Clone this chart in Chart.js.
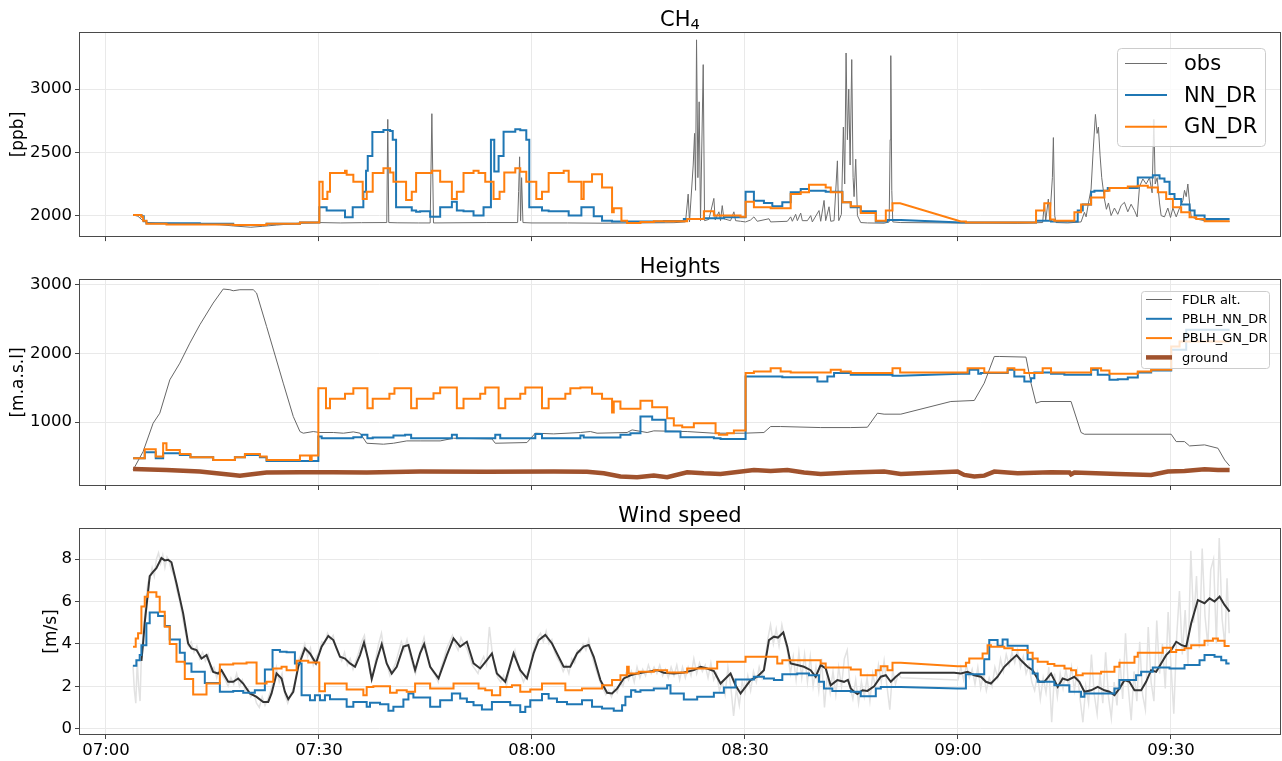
<!DOCTYPE html>
<html><head><meta charset="utf-8">
<script src="https://cdn.jsdelivr.net/npm/chart.js@4.4.1/dist/chart.umd.min.js"></script>
<style>
html,body{margin:0;padding:0;background:#fff;}
body{width:1282px;height:761px;position:relative;overflow:hidden;}
.box{position:absolute;left:0;width:1282px;}
canvas{display:block;}
</style></head><body>
<div class="box" style="top:0;height:250px"><canvas id="c1" width="1282" height="250"></canvas></div>
<div class="box" style="top:247px;height:252px"><canvas id="c2" width="1282" height="252"></canvas></div>
<div class="box" style="top:496px;height:265px"><canvas id="c3" width="1282" height="265"></canvas></div>
<script>
// ---------- shared axis data (minutes after 07:00) ----------
const xTickMinutes = [0, 30, 60, 90, 120, 150];
const xTickLabels = ['07:00', '07:30', '08:00', '08:30', '09:00', '09:30'];
const panelTitles = ['CH\u2084', 'Heights', 'Wind speed'];
const yTitles = ['[ppb]', '[m.a.s.l]', '[m/s]'];
const ch4Ticks = [2000, 2500, 3000];
const heightTicks = [1000, 2000, 3000];
const windTicks = [0, 2, 4, 6, 8];

// ---------- CH4 ----------
const ch4ObsT = [3.82,4.5,5.2,5.8,7,10,13.2,16,18,20.4,22,24,27.3,30,33,36,39.55,39.69,39.83,41,44,45.66,45.9,46.13,53.65,57.98,58.12,58.26,58.4,58.54,58.73,60,65,70,75,80,81.63,82.0,82.19,82.71,82.9,83.04,83.18,83.37,83.55,83.74,84.12,84.31,84.92,85.62,85.81,86.33,86.56,86.8,87.03,87.97,88.44,88.68,89.38,90.09,90.79,91.26,91.73,93.38,93.62,95.97,96.44,96.67,97.14,97.38,97.85,98.08,98.79,99.26,99.49,100.43,100.67,101.14,101.37,101.84,102.08,102.55,103.02,103.21,103.58,103.86,104.05,104.24,104.43,104.62,104.81,105.04,105.23,105.37,105.6,105.84,106.31,107.25,109.6,110.31,110.45,110.54,110.68,110.82,111.95,119,123.7,128.4,131.93,132.17,132.36,132.73,132.92,133.3,133.44,133.63,133.81,135.46,137.34,137.81,138.05,138.38,138.75,139.03,139.36,139.6,139.78,140.02,140.25,140.63,140.91,141.2,141.57,142.04,142.51,142.98,143.45,143.92,144.39,144.86,145.24,145.57,146.04,146.51,146.98,147.35,147.59,147.78,148.06,148.39,148.62,149.09,149.56,149.94,150.27,150.74,151.21,151.68,151.91,152.15,152.38,152.62,152.86,153.8,154.74,156.62,158.26];
const ch4ObsV = [2005,1995,1960,1945,1940,1938,1935,1928,1918,1908,1915,1925,1940,1945,1942,1944,1945,2761,1945,1943,1942,1942,2806,1942,1945,1945,2190,2465,1960,2300,1945,1942,1942,1940,1942,1944,1950,2170,1950,2400,2650,2200,3390,2300,2900,1960,3194,1960,1970,2136,1965,2030,1960,2079,1975,1960,2030,1960,1955,1950,1965,1990,1955,1975,1950,1955,1990,1955,2010,1960,2020,1960,1960,2000,1950,2040,1955,2120,1960,2070,1955,1960,2433,1960,2010,2700,2250,3286,2600,3000,2400,3234,2300,2150,2446,2000,1945,1942,1940,1950,2600,3265,2200,1950,1945,1942,1942,1940,1945,2100,1960,2131,1960,2300,2617,2000,1945,1942,1950,2026,1990,2100,2210,2500,2800,2650,2700,2472,2300,2131,2050,2100,2000,2060,2010,2080,2105,2030,2090,2040,1990,2230,2290,2250,2300,2180,2761,2250,2300,2100,2000,1990,2060,1985,2060,1990,2060,2120,2200,2150,2250,2100,1990,1970,1960,1958,1955];

const ch4NnT = [3.82,4.99,5.32,5.70,13.22,17.92,22.62,27.32,30.05,31.08,33.67,34.75,36.25,36.63,36.87,37.52,39.08,40.02,40.39,40.86,43.07,43.68,44.25,45.66,47.07,48.72,49.42,50.36,51.77,53.18,54.22,54.69,55.30,56.00,57.65,58.35,59.20,59.62,61.41,62.35,65.17,66.96,68.70,69.87,71.28,78.57,81.39,84.21,87.03,90.09,91.26,92.67,93.85,95.26,96.44,97.85,99.02,101.37,103.72,104.9,106.31,108.43,110.07,111.95,120.41,131.00,133.11,136.87,137.58,138.75,139.22,141.10,145.33,147.45,148.39,149.09,149.80,150.50,151.44,152.62,153.33,154.74,158.26];
const ch4NnV = [2005,1995,1955,1940,1935,1925,1935,1945,2066,2040,1987,2066,2189,2354,2472,2661,2677,2669,2599,2066,2040,2031,2034,1990,2066,2110,2040,2034,2000,2066,2599,2349,2472,2664,2683,2675,2599,2066,2040,2034,2000,2066,1995,1960,1953,1958,1974,1979,1987,2189,2118,2100,2074,2105,2184,2210,2197,2189,2105,2066,2034,1953,1966,1966,1945,1960,1953,2040,2087,2189,2197,2218,2302,2320,2294,2268,2171,2131,2087,2040,2000,1974,1974];
const ch4NnLinearAt = [120.41];

const ch4GnT = [3.82,4.99,5.23,5.70,8.52,17.92,22.62,27.32,30.05,30.52,31.18,31.55,33.67,33.90,34.84,36.16,36.73,37.57,39.08,40.02,40.49,42.27,43.07,43.68,45.90,47.07,48.72,49.42,50.36,51.77,52.48,53.42,54.59,55.44,56.10,57.65,58.35,59.20,60.61,61.41,62.35,64.47,65.17,66.96,67.29,68.46,69.87,71.28,71.52,72.60,73.40,75.28,77.16,81.86,84.21,85.62,89.38,90.09,91.26,93.62,96.44,97.85,99.02,101.37,102.08,103.72,104.9,106.31,108.43,109.84,110.78,111.86,120.41,121.12,131.00,132.17,133.01,133.58,136.40,137.34,138.75,140.63,141.34,143.92,145.33,146.74,148.15,149.33,150.27,151.44,152.62,153.56,154.74,158.26];
const ch4GnV = [2005,1990,1960,1935,1930,1925,1935,1945,2268,2131,2189,2336,2354,2323,2268,2131,2189,2336,2375,2341,2268,2123,2189,2336,2354,2268,2131,2189,2336,2354,2336,2268,2131,2189,2341,2375,2346,2268,2131,2189,2336,2354,2268,2131,2268,2328,2223,2026,2058,1960,1942,1950,1955,1974,2034,2000,1990,2110,2066,2058,2171,2184,2244,2223,2184,2105,2074,2021,1960,2040,2097,2097,1953,1945,2040,2097,1970,1960,2026,2087,2144,2197,2218,2231,2236,2223,2184,2131,2066,2026,1987,1974,1955,1955];
const ch4GnLinearAt = [120.41];

// ---------- Heights ----------
const altT = [3.82,5.23,6.64,7.58,8.99,10.40,11.81,13.22,15.10,16.51,17.45,17.92,18.86,20.74,21.21,22.62,24.97,26.38,27.32,27.79,29.20,30.14,32.02,33.44,34.84,35.79,36.73,39.08,40.49,42.37,44.25,47.07,48.95,54.36,54.83,59.29,60.47,63.06,66.82,68.23,69.17,73.40,74.10,76.22,77.16,81.86,85.62,89.85,92.67,93.62,95.03,100.67,104.9,107.25,108.66,109.6,111.95,119.0,122.3,123.7,125.12,125.82,129.58,130.29,130.99,131.70,135.93,137.34,137.81,150.03,150.74,151.91,152.62,154.74,156.62,157.56,158.26];
const altV = [306,573,985,1131,1616,1859,2150,2417,2733,2937,2927,2912,2927,2927,2879,2393,1568,1083,864,840,864,850,850,840,859,840,694,680,694,728,728,728,767,757,694,704,840,830,850,864,840,850,888,850,874,864,840,840,850,937,937,922,922,927,1131,1117,1117,1301,1316,1568,1956,1956,1947,1568,1277,1301,1301,850,825,825,718,718,655,670,621,451,364];

const pblhNnT = [3.82,5.46,7.01,8.05,10.40,11.90,15.10,18.16,19.57,21.68,22.62,29.91,30.38,34.84,36.02,36.82,37.57,40.49,42.13,42.98,48.72,49.42,54.83,55.53,60.47,61.41,66.82,67.29,72.46,73.87,75.28,76.93,78.81,80.92,85.62,86.56,90.09,95.26,100.2,101.61,102.55,104.9,110.78,111.86,120.41,121.59,122.86,123.24,127.0,127.94,129.35,130.29,130.76,133.11,134.99,138.75,139.69,141.34,142.51,143.92,145.33,147.21,150.03,152.15,158.26];
const pblhNnV = [476,563,476,549,524,490,451,490,524,490,437,791,767,782,816,767,777,806,816,767,816,767,816,767,830,767,806,777,816,840,1083,1034,864,782,767,757,1665,1655,1592,1665,1714,1689,1675,1675,1704,1762,1704,1714,1762,1665,1592,1640,1723,1704,1689,1762,1689,1617,1626,1650,1723,1752,2053,2345,2345];
const pblhNnLinearAt = [120.41];

const pblhGnT = [3.82,5.46,7.01,8.05,8.52,10.40,11.90,15.10,18.16,19.57,21.68,22.62,27.32,28.73,28.97,29.91,30.99,31.55,33.67,34.84,36.82,37.57,39.92,40.63,42.98,43.78,46.13,47.07,49.42,50.36,52.71,53.42,55.30,56.24,58.35,59.06,61.41,62.35,64.70,65.41,66.82,68.46,69.87,71.28,71.52,72.46,75.28,76.93,79.04,79.98,81.16,82.80,85.86,86.33,87.50,88.44,90.09,91.26,93.62,95.03,96.44,102.08,103.49,104.9,110.78,111.86,120.41,121.36,123.71,127.0,127.94,129.35,131.93,133.11,138.75,140.16,141.34,145.33,147.21,150.03,151.21,158.26];
const pblhGnV = [476,607,500,694,597,539,490,451,490,539,500,451,515,451,515,1495,1204,1340,1413,1495,1204,1340,1413,1495,1204,1340,1422,1505,1204,1340,1413,1505,1204,1340,1413,1505,1204,1340,1413,1495,1505,1413,1340,1141,1301,1194,1311,1218,1058,951,927,985,840,816,840,879,1714,1738,1786,1738,1723,1762,1738,1714,1786,1723,1723,1786,1723,1786,1762,1714,1786,1723,1786,1752,1704,1738,1762,2102,2175,2175];
const pblhGnLinearAt = [120.41];

const groundT = [3.82,8.52,13.22,15.57,17.92,18.86,20.27,22.62,27.32,32.02,36.73,44.25,53.65,63.06,67.76,70.11,72.46,74.81,77.16,79.04,81.86,84.21,86.56,90.09,91.26,93.62,95.97,98.32,100.67,104.9,109.6,111.95,119.94,120.88,122.3,123.71,125.12,128.41,133.11,135.7,135.93,136.4,142.51,147.21,149.56,151.91,154.74,156.62,158.26];
const groundV = [320,306,282,257,233,223,238,267,272,272,270,282,280,282,280,257,209,199,223,199,272,257,248,291,306,291,306,267,248,267,282,248,282,233,209,223,282,257,272,270,240,268,248,233,282,291,316,306,306];

// ---------- Wind speed ----------
const windRawT = [3.8,4.0,4.2,4.4,4.6,4.8,5.0,5.3,5.6,5.9,
 6.2,6.5,6.8,7.1,7.4,7.7,8.0,8.3,8.6,8.9,
 9.2,9.6,10.0,10.4,10.8,11.2,11.6,12.0,12.4,12.8,
 13.2,13.6,14.0,14.4,14.8,15.2,15.6,16.0,16.4,16.8,
 17.2,17.6,18.0,18.4,18.8,19.2,19.6,20.0,20.4,20.8,
 21.2,21.6,22.0,22.4,22.8,23.2,23.6,24.0,24.4,24.8,
 25.2,25.6,26.0,26.4,26.8,27.2,27.6,28.0,28.4,28.8,
 29.2,29.6,30.0,30.4,30.8,31.2,31.6,32.0,32.4,32.8,
 33.2,33.6,34.0,34.4,34.8,35.2,35.6,36.0,36.4,36.8,
 37.2,37.6,38.0,38.4,38.8,39.2,39.6,40.0,40.4,40.8,
 41.2,41.6,42.0,42.4,42.8,43.2,43.6,44.0,44.4,44.8,
 45.2,45.6,46.0,46.4,46.8,47.2,47.6,48.0,48.4,48.8,
 49.2,49.6,50.0,50.4,50.8,51.2,51.6,52.0,52.4,52.8,
 53.2,53.6,54.0,54.4,54.8,55.2,55.6,56.0,56.4,56.8,
 57.2,57.6,58.0,58.4,58.8,59.2,59.6,60.0,60.4,60.8,
 61.2,61.6,62.0,62.4,62.8,63.2,63.6,64.0,64.4,64.8,
 65.2,65.6,66.0,66.4,66.8,67.2,67.6,68.0,68.4,68.8,
 69.2,69.6,70.0,70.4,70.8,71.2,71.6,72.0,72.4,72.8,
 73.2,73.6,74.0,74.4,74.8,75.2,75.6,76.0,76.4,76.8,
 77.2,77.6,78.0,78.4,78.8,79.2,79.6,80.0,80.4,80.8,
 81.2,81.6,82.0,82.4,82.8,83.2,83.6,84.0,84.4,84.8,
 85.2,85.6,86.0,86.4,86.8,87.2,87.6,88.0,88.4,88.8,
 89.2,89.6,90.0,90.4,90.8,91.2,91.6,92.0,92.4,92.8,
 93.2,93.6,94.0,94.4,94.8,95.2,95.6,96.0,96.4,96.8,
 97.2,97.6,98.0,98.4,98.8,99.2,99.6,100.0,100.4,100.8,
 101.2,101.6,102.0,102.4,102.8,103.2,103.6,104.0,104.4,104.8,
 105.2,105.6,106.0,106.4,106.8,107.2,107.6,108.0,108.4,108.8,
 109.2,109.6,110.0,110.4,110.8,111.2,111.6,112.0,120.0,120.4,
 120.8,121.2,121.6,122.0,122.4,122.8,123.2,123.6,124.0,124.4,
 124.8,125.2,125.6,126.0,126.4,126.8,127.2,127.6,128.0,128.4,
 128.8,129.2,129.6,130.0,130.4,130.8,131.2,131.6,132.0,132.4,
 132.8,133.2,133.6,134.0,134.4,134.8,135.2,135.6,136.0,136.4,
 136.8,137.2,137.6,138.0,138.4,138.8,139.2,139.6,140.0,140.4,
 140.8,141.2,141.6,142.0,142.4,142.8,143.2,143.6,144.0,144.4,
 144.8,145.2,145.6,146.0,146.4,146.8,147.2,147.6,148.0,148.4,
 148.8,149.2,149.6,150.0,150.4,150.8,151.2,151.6,152.0,152.4,
 152.8,153.2,153.6,154.0,154.4,154.8,155.2,155.6,156.0,156.4,
 156.8,157.2,157.6,157.9,158.2];
const windRawV = [3.0,1.8,1.2,3.2,2.0,1.3,3.6,4.6,6.0,6.9,
 7.1,7.6,7.2,8.0,8.3,7.8,8.2,7.6,8.1,7.9,
 7.5,7.2,6.5,6.0,5.2,4.5,3.9,4.1,3.6,3.9,
 3.3,3.6,3.2,3.5,2.7,2.9,2.4,2.9,2.5,2.3,
 2.0,2.4,2.1,2.6,2.0,2.3,1.8,1.9,1.5,1.7,
 1.2,1.0,1.5,1.1,1.4,1.8,2.3,2.9,2.2,2.6,
 1.6,1.2,1.6,1.9,2.5,3.3,3.6,4.0,3.4,3.8,
 3.0,3.4,3.6,4.1,4.0,4.5,4.2,4.4,3.8,3.5,
 3.2,3.6,3.0,3.3,2.8,3.2,3.6,4.1,4.4,3.4,
 2.6,2.5,3.3,4.0,4.5,3.6,3.0,2.5,2.8,3.1,
 3.6,4.1,3.7,4.2,3.5,3.0,2.6,3.3,3.8,4.3,
 3.6,3.0,2.7,2.5,2.2,2.9,3.3,3.8,4.1,4.4,
 4.0,3.7,4.3,4.0,3.8,3.4,3.0,2.8,2.6,3.1,
 3.4,3.0,4.8,3.6,2.8,2.4,2.2,2.5,2.0,2.8,
 3.3,3.7,3.0,2.6,2.2,2.5,2.8,3.4,3.9,4.3,
 4.5,4.1,4.6,4.0,4.2,3.6,3.3,3.1,2.7,3.0,
 2.6,3.3,3.1,3.7,3.6,4.0,3.7,4.2,3.5,3.0,
 2.6,2.2,1.9,1.6,1.8,1.5,1.9,1.7,2.2,2.0,
 2.6,2.3,2.7,2.2,2.9,2.4,2.8,2.5,3.0,2.6,
 2.9,2.6,3.0,2.5,2.8,2.4,2.9,2.5,3.0,2.3,
 2.9,2.4,2.9,2.5,3.3,2.6,3.1,2.7,3.0,2.4,
 3.1,2.3,2.6,1.8,2.2,1.6,2.9,2.0,0.6,1.9,
 1.1,2.2,1.7,2.5,1.8,2.7,2.2,2.9,2.4,3.2,
 4.2,4.9,4.0,4.7,3.9,4.9,4.2,3.6,2.6,3.4,
 2.3,3.6,2.4,3.5,2.2,3.4,2.0,2.9,1.8,3.3,
 1.0,2.6,1.7,2.7,1.6,2.9,2.0,3.3,3.7,2.0,
 1.4,2.3,1.2,2.2,1.5,2.4,1.3,2.6,1.9,3.0,
 2.2,3.2,2.0,0.9,2.8,2.1,2.6,2.4,2.3,2.9,
 2.3,3.0,2.4,2.8,2.1,2.9,1.9,2.6,1.8,2.4,
 2.0,2.9,2.4,3.3,2.7,3.5,3.0,3.6,3.1,3.7,
 2.9,3.4,2.6,3.0,2.2,1.8,2.6,1.4,2.4,1.7,
 2.9,0.3,2.6,1.5,2.6,1.9,2.8,2.0,2.9,1.8,
 2.7,1.4,0.3,2.0,1.2,3.5,1.6,0.7,2.6,1.2,
 3.6,1.5,0.5,2.2,1.1,3.3,1.4,4.5,1.9,0.4,
 2.7,1.3,4.1,1.6,0.9,4.8,2.2,1.3,5.1,2.6,
 4.0,1.9,5.5,3.0,0.7,4.3,6.5,3.5,5.6,3.0,
 8.4,5.0,7.2,3.8,8.5,5.3,3.9,7.5,8.0,4.0,
 9.0,5.2,3.9,7.1,4.5];

const windSmoothT = [4.99,5.22,5.46,6.16,6.63,7.10,7.81,8.28,8.75,9.22,9.93,10.87,11.57,12.04,12.75,13.45,14.16,15.10,15.80,16.27,17.21,17.92,18.62,19.33,20.27,21.21,22.15,22.85,23.32,24.03,24.73,25.20,25.67,26.38,27.08,28.02,28.73,29.57,30.37,31.31,32.02,32.96,33.66,34.37,35.08,35.78,36.34,36.96,37.43,38.13,38.84,39.54,40.25,40.95,41.89,42.60,43.54,44.24,44.81,45.66,46.84,48.01,48.95,49.89,50.83,51.77,52.71,53.65,54.36,55.06,56.24,57.41,58.35,59.29,60.23,60.94,61.88,62.82,63.52,64.46,65.40,66.34,67.28,67.99,68.70,69.64,70.58,71.28,71.99,72.93,73.87,74.81,76.22,77.63,78.57,79.98,81.39,82.80,83.74,84.68,85.62,86.56,87.26,87.97,88.67,89.38,90.08,90.79,91.73,92.67,93.38,94.08,94.65,95.40,95.96,96.43,97.37,98.31,99.25,99.96,100.66,101.37,102.07,103.01,103.95,104.5,104.9,105.37,105.84,106.55,107.25,108.19,109.13,109.84,110.54,111.25,111.95,119.47,120.41,121.35,122.29,123.23,123.94,124.64,125.58,126.53,127.47,128.26,128.87,129.81,130.52,131.46,132.17,133.11,134.05,134.75,135.46,136.40,137.10,137.81,138.75,139.69,140.63,141.33,142.04,142.74,143.45,144.15,144.86,145.80,146.50,147.21,147.91,148.62,149.32,150.03,150.74,151.44,152.15,152.85,153.79,154.73,155.44,156.14,156.85,157.55,158.26];
const windSmoothV = [3.2,4.0,5.0,7.2,7.4,7.57,8.05,7.94,7.97,7.85,6.86,5.44,4.02,3.79,3.71,3.31,3.47,2.68,2.60,2.76,2.21,2.21,2.37,2.13,1.66,1.50,1.26,1.26,1.66,2.60,2.37,1.74,1.39,1.74,2.92,3.79,3.55,3.08,3.87,4.37,4.18,3.39,3.31,3.08,2.92,3.47,4.07,3.23,2.34,3.23,3.99,3.08,2.60,2.92,3.87,3.95,2.76,3.55,3.99,2.92,2.37,3.47,4.26,3.87,4.10,3.08,2.84,3.23,3.55,2.60,2.21,3.55,2.76,2.37,3.55,4.18,4.42,4.02,3.55,2.92,2.92,3.55,3.87,3.95,3.39,2.29,1.69,1.66,1.89,2.37,2.52,2.60,2.68,2.76,2.64,2.60,2.65,2.76,2.92,2.84,2.72,2.13,2.37,2.60,2.05,1.66,1.97,2.29,2.45,2.76,4.18,4.34,4.30,4.54,3.87,3.08,3.00,2.92,2.76,2.45,3.00,2.84,2.05,2.29,2.21,2.3,1.9,1.74,1.63,1.81,1.78,2.00,2.45,2.52,2.21,2.45,2.64,2.64,2.60,2.68,2.52,2.45,2.21,2.13,2.45,2.92,3.23,3.47,3.23,2.92,2.76,2.21,2.21,2.60,1.97,2.37,2.29,2.45,2.21,1.74,1.81,1.97,1.81,1.74,1.58,1.89,2.29,2.21,1.81,1.81,2.21,2.76,2.68,3.08,3.47,3.71,4.10,3.95,3.87,4.97,6.07,5.92,6.15,6.00,6.23,5.84,5.52];

const windNnT = [3.81,4.28,4.75,4.99,5.69,6.16,7.34,8.28,8.98,10.40,11.10,12.04,13.92,16.04,17.92,19.33,20.97,22.38,23.46,24.50,25.44,26.61,27.55,28.73,29.43,30.14,30.84,31.55,33.90,34.84,36.72,37.19,38.60,39.78,40.48,41.89,42.60,43.30,45.66,47.07,48.72,49.89,50.83,51.77,52.95,54.36,56.94,58.35,59.06,59.76,61.41,62.35,63.52,64.93,67.05,68.46,69.87,71.52,72.69,73.16,73.96,74.57,75.28,77.16,79.04,79.51,81.39,83.27,85.62,87.03,88.67,91.26,92.67,94.08,95.26,97.37,99.02,100.43,101.13,102.31,104.9,106.31,108.43,109.13,111.95,119.94,121.12,123.70,124.41,125.58,126.29,126.99,129.81,130.52,131.23,133.58,135.69,137.34,137.81,142.04,142.74,145.09,145.80,147.44,149.80,151.91,154.03,154.73,156.14,157.08,157.79,158.26];
const windNnV = [2.97,3.23,3.47,3.94,4.97,5.48,5.32,4.84,4.21,3.58,3.08,2.68,2.16,1.74,1.78,1.69,1.81,2.79,3.71,3.63,3.60,3.08,1.58,1.34,1.58,1.34,1.58,1.39,1.03,1.26,1.03,1.22,1.15,0.84,1.03,1.37,1.66,1.47,1.03,1.34,1.66,1.42,1.26,1.10,0.90,1.26,1.10,0.79,1.03,1.34,1.63,1.42,1.26,1.15,1.34,1.03,0.95,0.84,1.10,1.50,1.81,1.74,1.81,1.89,2.05,1.66,1.37,1.50,1.69,1.94,2.32,2.45,2.37,2.29,2.57,2.60,2.52,2.21,1.89,1.78,1.74,1.53,1.89,1.97,1.97,1.89,2.57,3.27,4.18,3.91,4.21,3.91,3.27,2.60,2.21,2.05,1.74,1.50,1.66,1.89,2.29,2.52,2.68,2.89,2.84,3.00,3.23,3.47,3.39,3.23,3.08,3.08];
const windNnLinearAt = [119.94];

const windGnT = [3.81,4.19,4.52,4.99,5.46,5.93,7.10,7.57,8.28,8.98,9.93,11.10,12.28,14.16,16.04,17.92,19.80,21.21,22.62,23.56,24.73,25.44,26.85,28.49,30.05,30.84,33.90,36.25,36.72,37.66,40.01,40.95,42.36,43.54,45.66,48.95,52.48,53.42,54.36,55.53,57.18,58.35,59.76,61.41,64.70,67.05,69.87,71.28,72.46,73.40,73.63,75.04,77.16,79.04,81.86,86.09,90.08,94.55,95.26,100.66,101.37,104.9,106.31,108.43,109.13,110.07,110.78,111.95,119.94,121.12,121.59,123.47,124.17,124.64,126.53,127.70,129.81,130.52,131.23,132.64,133.58,135.0,135.93,136.63,137.57,140.16,142.04,142.74,144.86,145.33,148.85,150.03,150.74,151.91,152.85,154.73,155.91,156.61,157.55,158.26];
const windGnV = [3.87,4.26,4.50,5.76,6.23,6.44,6.23,5.52,4.81,3.99,3.16,2.34,1.61,2.13,3.03,3.08,3.12,2.13,2.21,2.84,2.92,2.76,3.20,3.12,1.77,2.13,1.85,1.58,1.97,2.00,1.69,1.81,1.74,2.13,1.89,2.13,1.89,1.81,1.58,1.97,2.05,1.74,1.85,2.13,1.81,1.89,2.05,2.29,2.52,2.92,2.60,2.68,2.76,2.65,2.84,3.16,3.39,3.08,3.23,3.08,2.89,2.79,2.52,2.76,2.95,2.76,3.11,3.11,2.95,3.11,3.31,3.55,3.94,3.87,3.79,3.71,3.58,3.31,3.16,3.05,2.97,2.84,2.76,2.52,2.60,2.68,2.92,3.11,3.39,3.58,3.82,3.62,3.71,3.79,3.94,4.15,4.26,4.15,3.90,3.90];
const windGnLinearAt = [119.94];

// ---------- helpers ----------
const FONT = "'DejaVu Sans', 'Liberation Sans', sans-serif";
const BLUE = '#1f77b4', ORANGE = '#ff7f0e';
const SUBS = '\u2080\u2081\u2082\u2083\u2084\u2085\u2086\u2087\u2088\u2089';

function linePts(ts, vs) {
  const n = Math.min(ts.length, vs.length), p = [];
  for (let i = 0; i < n; i++) p.push({x: ts[i], y: vs[i]});
  return p;
}
function stepPts(ts, vs, linearAt) {
  const n = Math.min(ts.length, vs.length), p = [];
  for (let i = 0; i < n; i++) {
    if (i > 0 && !(linearAt || []).includes(ts[i])) p.push({x: ts[i], y: vs[i - 1]});
    p.push({x: ts[i], y: vs[i]});
  }
  return p;
}
function ds(label, data, color, width, order) {
  return {label, data, borderColor: color, backgroundColor: color, borderWidth: width,
          order, pointRadius: 0, fill: false, tension: 0, borderJoinStyle: 'miter', borderCapStyle: 'butt'};
}
// draw a title, rendering unicode subscript digits as lowered smaller digits (mathtext-like)
function drawTitle(ctx, text, cx, baseY, size) {
  const parts = [];
  for (const ch of text) {
    const k = SUBS.indexOf(ch);
    if (k >= 0) parts.push({t: String(k), sub: true}); else parts.push({t: ch, sub: false});
  }
  const subSize = size * 0.7;
  let w = 0;
  parts.forEach(p => { ctx.font = (p.sub ? subSize : size) + 'px ' + FONT; p.w = ctx.measureText(p.t).width; w += p.w; });
  let x = cx - w / 2;
  ctx.textAlign = 'left'; ctx.textBaseline = 'alphabetic';
  parts.forEach(p => {
    ctx.font = (p.sub ? subSize : size) + 'px ' + FONT;
    ctx.fillText(p.t, x, baseY + (p.sub ? size * 0.15 : 0));
    x += p.w;
  });
}

const panelPlugin = {
  id: 'panel',
  afterDatasetsDraw(chart, args, o) {
    const {ctx, chartArea: a} = chart;
    ctx.save();
    ctx.strokeStyle = '#4a4a4a'; ctx.lineWidth = 1;
    ctx.strokeRect(Math.round(a.left) + 0.5, Math.round(a.top) + 0.5,
                   Math.round(a.right - a.left) - 1, Math.round(a.bottom - a.top) - 1);
    ctx.restore();
  },
  afterDraw(chart, args, o) {
    const {ctx, chartArea: a} = chart;
    ctx.save();
    ctx.fillStyle = '#000';
    drawTitle(ctx, o.title, (a.left + a.right) / 2, a.top - o.titleGap, o.titleSize);
    const L = o.legend;
    if (L) {
      ctx.beginPath();
      ctx.roundRect(L.x + 0.5, L.y + 0.5, L.w, L.h, L.r);
      ctx.fillStyle = 'rgba(255,255,255,0.8)'; ctx.fill();
      ctx.strokeStyle = '#cccccc'; ctx.lineWidth = 1; ctx.stroke();
      const items = chart.data.datasets.filter(d => d.label);
      ctx.font = L.size + 'px ' + FONT;
      ctx.textAlign = 'left'; ctx.textBaseline = 'middle';
      items.forEach((d, i) => {
        const y = L.row0 + i * L.dy;
        ctx.beginPath(); ctx.moveTo(L.lx0, y); ctx.lineTo(L.lx1, y);
        ctx.strokeStyle = d.borderColor; ctx.lineWidth = d.borderWidth; ctx.lineCap = 'butt'; ctx.stroke();
        ctx.fillStyle = '#000';
        ctx.fillText(d.label, L.tx, y + 1);
      });
    }
    ctx.restore();
  }
};

function makeChart(id, datasets, c) {
  return new Chart(document.getElementById(id), {
    type: 'line',
    data: {datasets},
    plugins: [panelPlugin],
    options: {
      responsive: false, animation: false, devicePixelRatio: 1, events: [],
      layout: {padding: {top: 32, right: 1, left: 0, bottom: 0}},
      plugins: {
        legend: {display: false}, tooltip: {enabled: false}, title: {display: false},
        panel: {title: c.title, titleSize: 21, titleGap: 6, legend: c.legend || null}
      },
      scales: {
        x: {
          type: 'linear', min: -3.8, max: 165.5, bounds: 'data',
          afterFit: s => { s.height = c.xHeight; },
          afterBuildTicks: s => { s.ticks = xTickMinutes.map(v => ({value: v})); },
          ticks: {display: c.showX, autoSkip: false, maxRotation: 0, padding: 2, color: '#000',
                  font: {family: FONT, size: 16.5},
                  callback: v => { const i = xTickMinutes.indexOf(v); return i >= 0 ? xTickLabels[i] : ''; }},
          grid: {color: '#e9e9e9', lineWidth: 1, tickColor: '#444', tickLength: 4, drawTicks: true},
          border: {display: false}
        },
        y: {
          type: 'linear', min: c.ymin, max: c.ymax, bounds: 'data',
          afterFit: s => { s.width = 79; },
          afterBuildTicks: s => { s.ticks = c.yticks.map(v => ({value: v})); },
          ticks: {color: '#000', padding: 3, font: {family: FONT, size: 16.5}, callback: v => String(v)},
          title: {display: true, text: c.ytitle, color: '#000', font: {family: FONT, size: 17},
                  padding: {top: c.ytitlePad, bottom: 0}},
          grid: {color: '#e9e9e9', lineWidth: 1, tickColor: '#444', tickLength: 4},
          border: {display: false}
        }
      }
    }
  });
}

// ---------- charts ----------
makeChart('c1', [
  ds('obs', linePts(ch4ObsT, ch4ObsV), '#6e6e6e', 1, 2),
  ds('NN_DR', stepPts(ch4NnT, ch4NnV, ch4NnLinearAt), BLUE, 2, 1),
  ds('GN_DR', stepPts(ch4GnT, ch4GnV, ch4GnLinearAt), ORANGE, 2, 0)
], {title: panelTitles[0], ytitle: yTitles[0], ytitlePad: 8, ymin: 1830, ymax: 3452, yticks: ch4Ticks,
    xHeight: 12, showX: false,
    legend: {x: 1117, y: 48, w: 148, h: 98, r: 4, row0: 63.5, dy: 31.6, lx0: 1125, lx1: 1167, tx: 1184, size: 21}});

makeChart('c2', [
  ds('FDLR alt.', linePts(altT, altV), '#666666', 1, 3),
  ds('PBLH_NN_DR', stepPts(pblhNnT, pblhNnV, pblhNnLinearAt), BLUE, 2, 2),
  ds('PBLH_GN_DR', stepPts(pblhGnT, pblhGnV, pblhGnLinearAt), ORANGE, 2, 1),
  ds('ground', linePts(groundT, groundV), '#a0522d', 4.5, 0)
], {title: panelTitles[1], ytitle: yTitles[1], ytitlePad: 8, ymin: 72, ymax: 3083, yticks: heightTicks,
    xHeight: 13, showX: false,
    legend: {x: 1141, y: 44, w: 128, h: 77, r: 3, row0: 52.5, dy: 19.3, lx0: 1146, lx1: 1172, tx: 1182, size: 13}});

makeChart('c3', [
  ds('', linePts(windRawT, windRawV), '#e2e2e2', 1.5, 3),
  ds('', linePts(windSmoothT, windSmoothV), '#333333', 2, 2),
  ds('', stepPts(windNnT, windNnV, windNnLinearAt), BLUE, 2, 1),
  ds('', stepPts(windGnT, windGnV, windGnLinearAt), ORANGE, 2, 0)
], {title: panelTitles[2], ytitle: yTitles[2], ytitlePad: 41, ymin: -0.30, ymax: 9.47, yticks: windTicks,
    xHeight: 26, showX: true});
</script>
</body></html>
